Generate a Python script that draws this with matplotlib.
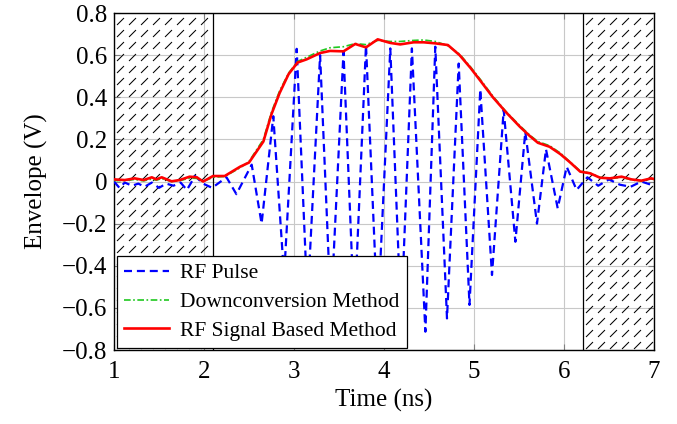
import numpy as np
import matplotlib
matplotlib.use('Agg')
import matplotlib.pyplot as plt
from matplotlib.path import Path

plt.rcParams['font.family'] = ['Liberation Serif', 'DejaVu Serif']
plt.rcParams['axes.unicode_minus'] = True

# RF pulse (peaks / troughs)
blue_t = [1.0, 1.06, 1.12, 1.2, 1.27, 1.34, 1.42, 1.5, 1.58, 1.66,
          1.74, 1.81, 1.9, 1.99, 2.09, 2.25, 2.36, 2.53, 2.64, 2.77,
          2.89, 3.03, 3.15, 3.29, 3.41, 3.55, 3.67, 3.8, 3.93, 4.07,
          4.19, 4.31, 4.46, 4.57, 4.7, 4.83, 4.95, 5.07, 5.2, 5.33,
          5.46, 5.57, 5.7, 5.8, 5.93, 6.03, 6.14, 6.26, 6.38, 6.5,
          6.62, 6.74, 6.86, 7.0]
blue_v = [0.0, -0.03, -0.005, -0.02, -0.01, -0.025, -0.005, -0.03, -0.01, -0.02,
          -0.005, -0.04, 0.026, -0.01, -0.03, 0.02, -0.06, 0.08, -0.2, 0.31,
          -0.45, 0.63, -0.57, 0.6, -0.62, 0.616, -0.64, 0.648, -0.65, 0.632,
          -0.66, 0.632, -0.713, 0.64, -0.65, 0.56, -0.586, 0.437, -0.444, 0.34,
          -0.286, 0.236, -0.2, 0.153, -0.127, 0.07, -0.04, 0.02, -0.02, 0.01,
          -0.015, -0.025, 0.0, -0.02]

# envelopes
env_t = [1.0, 1.12, 1.23, 1.33, 1.42, 1.47, 1.53, 1.64, 1.73, 1.84,
         1.92, 1.99, 2.1, 2.23, 2.4, 2.5, 2.66, 2.75, 2.84, 2.94,
         3.04, 3.14, 3.29, 3.4, 3.55, 3.68, 3.8, 3.93, 4.07, 4.18,
         4.33, 4.44, 4.57, 4.71, 4.84, 4.96, 5.07, 5.21, 5.36, 5.51,
         5.62, 5.71, 5.84, 5.96, 6.07, 6.18, 6.29, 6.4, 6.51, 6.64,
         6.75, 6.86, 6.97, 7.0]
red_v = [0.01, 0.007, 0.015, 0.007, 0.02, 0.01, 0.02, 0.001, 0.007, 0.023,
         0.02, 0.0, 0.026, 0.026, 0.07, 0.09, 0.19, 0.32, 0.42, 0.51,
         0.565, 0.58, 0.61, 0.62, 0.618, 0.653, 0.637, 0.675, 0.658, 0.651,
         0.661, 0.661, 0.656, 0.648, 0.60, 0.54, 0.479, 0.40, 0.327, 0.26,
         0.216, 0.184, 0.165, 0.13, 0.09, 0.047, 0.039, 0.018, 0.015, 0.023,
         0.01, 0.004, 0.015, 0.012]
green_v = [0.005, 0.004, 0.01, 0.003, 0.012, 0.006, 0.014, 0.0, 0.004, 0.016,
           0.015, 0.0, 0.02, 0.024, 0.065, 0.095, 0.2, 0.33, 0.43, 0.515,
           0.57, 0.59, 0.62, 0.635, 0.64, 0.655, 0.65, 0.67, 0.665, 0.665,
           0.67, 0.672, 0.665, 0.645, 0.605, 0.545, 0.485, 0.405, 0.33, 0.265,
           0.22, 0.19, 0.17, 0.135, 0.092, 0.05, 0.04, 0.02, 0.014, 0.02,
           0.008, 0.003, 0.012, 0.01]

# hatched (excluded) intervals
spans = [(1.0, 2.1), (6.21, 7.0)]

fig = plt.figure(figsize=(6.77, 4.24), dpi=100)
ax = fig.add_axes([0.1684, 0.1745, 0.7976, 0.7948])
ax.set_xlim(1, 7)
ax.set_ylim(-0.8, 0.8)

ax.grid(True, color='#c8c8c8', lw=0.8)
ax.set_axisbelow(True)

# hatch made of short diagonal strokes
stroke = Path([(-0.5, -0.5), (0.5, 0.5)], [Path.MOVETO, Path.LINETO])
dx, dy = 12 / 90, 12 / 210.6
for a, b in spans:
    xs = np.arange(a + 0.07, b, dx)
    ys = np.arange(0.76, -0.8, -dy)
    gx, gy = np.meshgrid(xs, ys)
    ax.plot(gx.ravel(), gy.ravel(), ls='none', marker=stroke, ms=5,
            mec='black', mew=0.75, zorder=1)
    for edge in (a, b):
        if 1 < edge < 7:
            ax.axvline(edge, color='black', lw=0.9, zorder=1.5)

ax.plot(blue_t, blue_v, color='#0000ff', lw=1.6, dashes=(3.6, 2.2),
        label='RF Pulse', zorder=3)
ax.plot(env_t, green_v, color='#1fc81f', lw=1.2, dashes=(4, 1.5, 1, 1.5),
        label='Downconversion Method', zorder=3)
ax.plot(env_t, red_v, color='#ff0000', lw=1.9, label='RF Signal Based Method',
        zorder=4)

ax.set_xticks(range(1, 8))
ax.set_yticks(np.arange(-0.8, 0.81, 0.2))
ax.set_yticklabels(['\u22120.8', '\u22120.6', '\u22120.4', '\u22120.2', '0',
                    '0.2', '0.4', '0.6', '0.8'])
ax.tick_params(direction='in', length=4, width=0.8, color='#808080',
               top=True, right=True, labelsize=18)
ax.tick_params(axis='x', pad=8)
ax.tick_params(axis='y', pad=5)
for s in ax.spines.values():
    s.set_linewidth(1.0)

ax.set_xlabel('Time (ns)', fontsize=18, labelpad=4)
ax.set_ylabel('Envelope (V)', fontsize=18, labelpad=10)

leg = ax.legend(loc='lower left', bbox_to_anchor=(0.005, 0.005), fontsize=15.5,
                frameon=True, fancybox=False, edgecolor='black', framealpha=1,
                handlelength=2.1, labelspacing=0.4, borderpad=0.35,
                handletextpad=0.5, borderaxespad=0)
leg.get_frame().set_linewidth(0.9)
leg.set_zorder(10)

fig.savefig('out.png', dpi=100)
